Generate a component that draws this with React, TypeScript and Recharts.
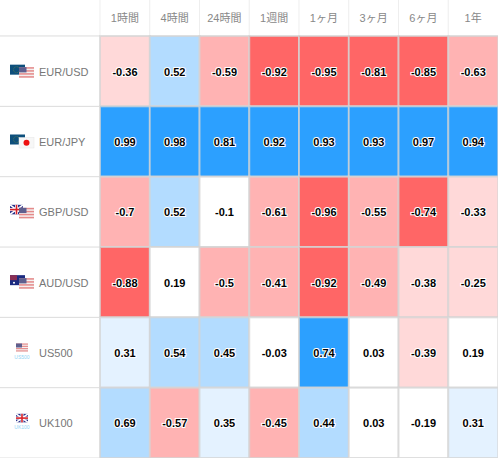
import React from "react";
import { BarChart, Bar, XAxis, YAxis } from "recharts";

const periods = ["1時間", "4時間", "24時間", "1週間", "1ヶ月", "3ヶ月", "6ヶ月", "1年"];
const instruments = ["EUR/USD", "EUR/JPY", "GBP/USD", "AUD/USD", "US500", "UK100"];
const eurUsd = ["-0.36", "0.52", "-0.59", "-0.92", "-0.95", "-0.81", "-0.85", "-0.63"];
const eurJpy = ["0.99", "0.98", "0.81", "0.92", "0.93", "0.93", "0.97", "0.94"];
const gbpUsd = ["-0.7", "0.52", "-0.1", "-0.61", "-0.96", "-0.55", "-0.74", "-0.33"];
const audUsd = ["-0.88", "0.19", "-0.5", "-0.41", "-0.92", "-0.49", "-0.38", "-0.25"];
const us500 = ["0.31", "0.54", "0.45", "-0.03", "0.74", "0.03", "-0.39", "0.19"];
const uk100 = ["0.69", "-0.57", "0.35", "-0.45", "0.44", "0.03", "-0.19", "0.31"];
const rows = [eurUsd, eurJpy, gbpUsd, audUsd, us500, uk100];

const table = periods.map((period, c) => {
  const row: Record<string, unknown> = { period };
  rows.forEach((r, i) => {
    row[`r${i}`] = 1;
    row[`v${i}`] = r[c];
  });
  return row;
});

const fillFor = (s: string) => {
  const v = parseFloat(s);
  if (v >= 0.7) return "#2ca0ff";
  if (v >= 0.4) return "#b3dcff";
  if (v >= 0.3) return "#e4f2ff";
  if (v > -0.2) return "#ffffff";
  if (v > -0.4) return "#ffd9d9";
  if (v > -0.72) return "#ffb3b3";
  return "#ff6666";
};

const FONT = '"Liberation Sans", Arial, "Noto Sans CJK JP", sans-serif';

const Us = ({ x, y, w = 15, h = 10.5 }: any) => (
  <g>
    <rect x={x} y={y} width={w} height={h} fill="#f4f0f0" />
    {[0, 2, 4, 6].map((k) => (
      <rect key={k} x={x} y={y + (k * h) / 7} width={w} height={h / 7} fill="#e58a8a" />
    ))}
    <rect x={x} y={y} width={w * 0.5} height={h * 0.5} fill="#5e5f8e" />
  </g>
);
const Eu = ({ x, y }: any) => (
  <g>
    <rect x={x} y={y} width={15} height={10} fill="#0d4f7c" />
    <circle cx={x + 6.5} cy={y + 5} r={3} fill="none" stroke="#7d8f3a" strokeWidth={0.6} strokeDasharray="0.8 0.8" />
  </g>
);
const Jp = ({ x, y }: any) => (
  <g>
    <rect x={x} y={y} width={15} height={10.5} fill="#f7f7f7" stroke="#e5e5e5" strokeWidth={0.5} />
    <circle cx={x + 7.5} cy={y + 5.2} r={3} fill="#ee1111" />
  </g>
);
const Uk = ({ x, y, w = 12, h = 9 }: any) => (
  <g>
    <rect x={x} y={y} width={w} height={h} fill="#27308a" />
    <line x1={x} y1={y} x2={x + w} y2={y + h} stroke="#fff" strokeWidth={1.6} />
    <line x1={x + w} y1={y} x2={x} y2={y + h} stroke="#fff" strokeWidth={1.6} />
    <rect x={x + w / 2 - 1.5} y={y} width={3} height={h} fill="#fff" />
    <rect x={x} y={y + h / 2 - 1.5} width={w} height={3} fill="#fff" />
    <rect x={x + w / 2 - 0.8} y={y} width={1.6} height={h} fill="#d8232a" />
    <rect x={x} y={y + h / 2 - 0.8} width={w} height={1.6} fill="#d8232a" />
  </g>
);
const Au = ({ x, y }: any) => (
  <g>
    <rect x={x} y={y} width={15} height={10} fill="#1b2a80" />
    <rect x={x} y={y} width={7} height={5} fill="#8a2f55" />
    <circle cx={x + 4} cy={y + 7.5} r={1} fill="#fff" />
    <circle cx={x + 11} cy={y + 5} r={1} fill="#fff" />
  </g>
);
const Caption = ({ x, y, children }: any) => (
  <text x={x} y={y} textAnchor="middle" fontSize={5} fill="#8fd4f5" fontFamily={FONT}>
    {children}
  </text>
);

const flagFor = (name: string, cy: number) => {
  if (name === "EUR/USD") return (<g><Eu x={10} y={cy - 6.5} /><Us x={19} y={cy - 4} /></g>);
  if (name === "EUR/JPY") return (<g><Eu x={10} y={cy - 7} /><Jp x={19} y={cy - 4} /></g>);
  if (name === "GBP/USD") return (<g><Uk x={10} y={cy - 7} w={13} h={9.5} /><Us x={19} y={cy - 4} /></g>);
  if (name === "AUD/USD") return (<g><Au x={10} y={cy - 7} /><Us x={19} y={cy - 4} /></g>);
  if (name === "US500") return (<g><Us x={16} y={cy - 9} w={12} h={8} /><Caption x={22} y={cy + 6}>US500</Caption></g>);
  return (<g><Uk x={16} y={cy - 9} w={12} h={8.5} /><Caption x={22} y={cy + 6}>UK100</Caption></g>);
};

const RowTick = (props: any) => {
  const { y, index } = props;
  const name = instruments[index];
  return (
    <g>
      {flagFor(name, y)}
      <text x={39} y={y + 4.5} fontSize={11} fill="#777777" fontFamily={FONT}>
        {name}
      </text>
      <line x1={0} x2={100} y1={y + 35.2} y2={y + 35.2} stroke="#dcdcdc" strokeWidth={1} />
      {index === 0 && <line x1={0} x2={100} y1={y - 35.2} y2={y - 35.2} stroke="#dcdcdc" strokeWidth={1} />}
    </g>
  );
};

const PeriodTick = (props: any) => {
  const { x, payload } = props;
  return (
    <g>
      <text x={x} y={22} textAnchor="middle" fontSize={11} fill="#888888" fontFamily={FONT}>
        {payload.value}
      </text>
      <line x1={x - 24.9} x2={x - 24.9} y1={0} y2={35} stroke="#eeeeee" strokeWidth={1} />
    </g>
  );
};

const cellShape = (i: number) => (props: any) => {
  const { x, y, width, height, payload } = props;
  const label = payload[`v${i}`];
  const top = Math.min(y, y + height);
  const h = Math.abs(height);
  return (
    <g>
      <rect x={x} y={top} width={width} height={h} fill={fillFor(label)} stroke="#d4d4d4" strokeOpacity={0.75} strokeWidth={2} />
      <text
        x={x + width / 2}
        y={top + h / 2 + 4.5}
        textAnchor="middle"
        fontSize={11}
        fontWeight={700}
        fill="#000"
        stroke="#fff"
        strokeWidth={2}
        paintOrder="stroke"
        fontFamily={FONT}
      >
        {label}
      </text>
    </g>
  );
};

export default function App() {
  return (
    <div style={{ position: "absolute", left: 0, top: 0, width: 498, height: 458, background: "#fff" }}>
      <BarChart
        width={498}
        height={458}
        data={table}
        barCategoryGap={0}
        margin={{ top: 0, right: 0, bottom: 0, left: 0 }}
      >
        <XAxis
          dataKey="period"
          orientation="top"
          height={36}
          axisLine={false}
          tickLine={false}
          interval={0}
          tick={<PeriodTick />}
        />
        <YAxis
          type="number"
          width={100}
          reversed
          domain={[0, 6]}
          ticks={[0.5, 1.5, 2.5, 3.5, 4.5, 5.5]}
          axisLine={false}
          tickLine={false}
          interval={0}
          tick={<RowTick />}
        />
        {instruments.map((name, i) => (
          <Bar key={name} dataKey={`r${i}`} stackId="grid" isAnimationActive={false} shape={cellShape(i)} />
        ))}
      </BarChart>
    </div>
  );
}
